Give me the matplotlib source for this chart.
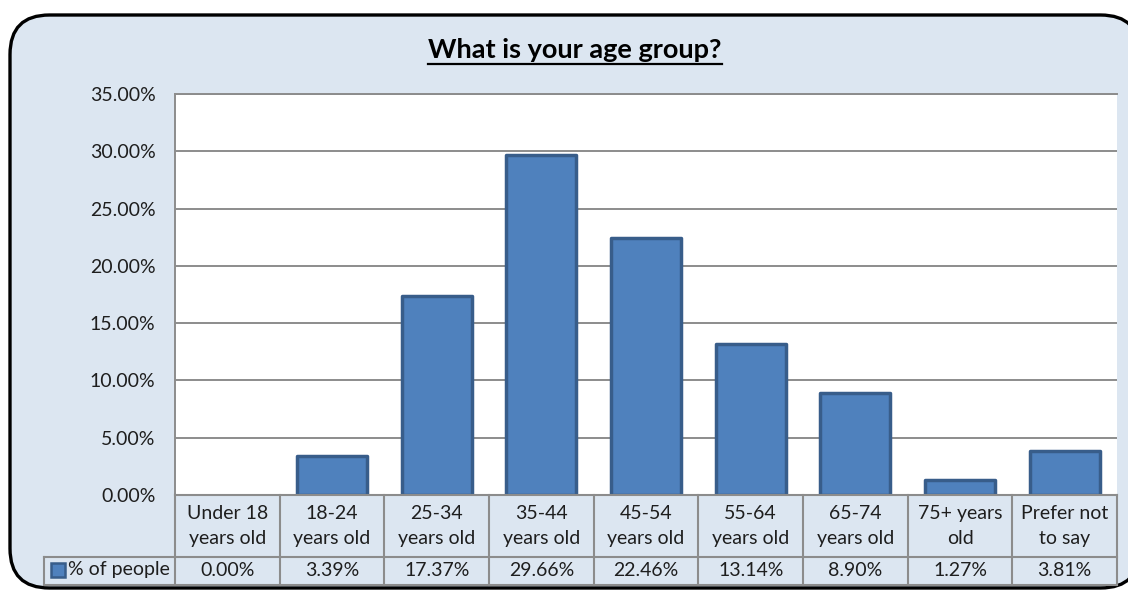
import matplotlib
matplotlib.use("Agg")
import matplotlib.pyplot as plt
from matplotlib.patches import FancyBboxPatch, Rectangle
from matplotlib.lines import Line2D
from matplotlib.transforms import blended_transform_factory

plt.rcParams['font.family'] = ['Lato', 'DejaVu Sans']

title = "What is your age group?"
categories = ["Under 18\nyears old", "18-24\nyears old", "25-34\nyears old",
              "35-44\nyears old", "45-54\nyears old", "55-64\nyears old",
              "65-74\nyears old", "75+ years\nold", "Prefer not\nto say"]
values = [0.00, 3.39, 17.37, 29.66, 22.46, 13.14, 8.90, 1.27, 3.81]
series_name = "% of people"
yticks = [0, 5, 10, 15, 20, 25, 30, 35]

W, H = 1128, 590
fig = plt.figure(figsize=(W / 100, H / 100), dpi=100)
fig.patch.set_facecolor("white")

BG = "#DCE6F1"
BAR = "#4F81BD"
BAR_EDGE = "#385D8A"
GRID = "#8C8C8C"
TABLE = "#8C8C8C"
TXT = "#1E1E1E"
FS = 14

def fx(px):
    return px / W

def fy(py):
    return 1 - py / H

# rounded chart frame
frame = FancyBboxPatch((fx(10), fy(588)), fx(1140) - fx(10), fy(15) - fy(588),
                       boxstyle="round,pad=0,rounding_size=0.035",
                       transform=fig.transFigure, facecolor=BG, edgecolor="black",
                       linewidth=2.4, mutation_aspect=W / H, zorder=-5)
fig.patches.append(frame)

# plot area
left, right, top, bottom = 175, 1117, 94, 495
ax = fig.add_axes([fx(left), fy(bottom), fx(right) - fx(left), fy(top) - fy(bottom)])
ax.set_zorder(2)
ax.set_facecolor("white")
n = len(categories)
x = list(range(n))
# empty categories get no outline so nothing shows at the baseline
edges = [BAR_EDGE if v > 0 else "none" for v in values]
ax.bar(x, values, width=0.67, color=BAR, edgecolor=edges, linewidth=2.5,
       joinstyle="round", zorder=3)
ax.set_xlim(-0.5, n - 0.5)
ax.set_ylim(0, 35)
ax.set_yticks(yticks)
ax.set_yticklabels([f"{t:.2f}%" for t in yticks], fontsize=FS, color=TXT)
ax.tick_params(axis="y", length=0, pad=14)
ax.set_xticks([])
ax.yaxis.grid(True, color=GRID, linewidth=1.4, zorder=1)
for s in ["right", "bottom"]:
    ax.spines[s].set_visible(False)
for s in ["left", "top"]:
    ax.spines[s].set_color(GRID)
    ax.spines[s].set_linewidth(1.4)

# data table under the plot: x in data units, y in axes fraction
tr = blended_transform_factory(ax.transData, ax.transAxes)
ph = bottom - top
row1 = -62 / ph
row2 = -90 / ph
cat_w = (right - left) / n
label_left = -0.5 - (left - 44) / cat_w

def hline(x0, x1, y):
    ax.add_line(Line2D([x0, x1], [y, y], transform=tr, color=TABLE, lw=1.5,
                       clip_on=False, zorder=5))

def vline(xv, y0, y1):
    ax.add_line(Line2D([xv, xv], [y0, y1], transform=tr, color=TABLE, lw=1.5,
                       clip_on=False, zorder=5))

hline(-0.5, n - 0.5, 0)
hline(label_left, n - 0.5, row1)
hline(label_left, n - 0.5, row2)
for k in range(n + 1):
    vline(k - 0.5, 0, row2)
vline(label_left, row1, row2)

for i, (c, v) in enumerate(zip(categories, values)):
    ax.text(i, row1 / 2, c, transform=tr, ha="center", va="center",
            fontsize=FS, color=TXT, linespacing=1.55, clip_on=False)
    ax.text(i, (row1 + row2) / 2, f"{v:.2f}%", transform=tr, ha="center",
            va="center", fontsize=FS, color=TXT, clip_on=False)

# legend key inside the table
ax.add_patch(Rectangle((fx(51), fy(577)), fx(14), fy(563) - fy(577),
                       transform=fig.transFigure, facecolor=BAR,
                       edgecolor=BAR_EDGE, linewidth=1.8, clip_on=False, zorder=6))
fig.text(fx(68), fy(570), series_name, ha="left", va="center", fontsize=FS,
         color=TXT)

# underlined title
t = fig.text(fx(575), fy(50), title, ha="center", va="center", fontsize=19.5,
             fontweight="bold", color="black")
fig.canvas.draw()
bb = t.get_window_extent().transformed(fig.transFigure.inverted())
fig.add_artist(Line2D([bb.x0, bb.x1], [fy(64), fy(64)], transform=fig.transFigure,
                      color="black", lw=1.6))

fig.savefig("out.png", dpi=100, facecolor="white")
